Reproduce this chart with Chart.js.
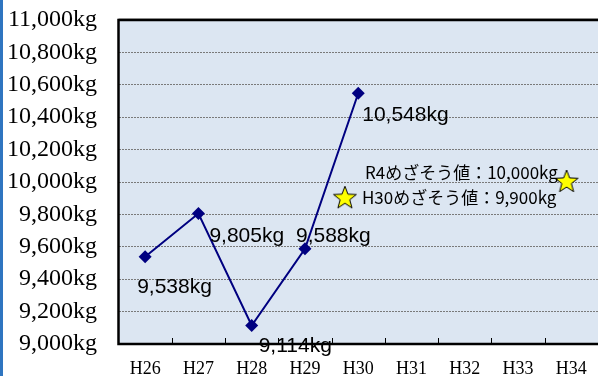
<!DOCTYPE html>
<html>
<head>
<meta charset="utf-8">
<script src="https://cdn.jsdelivr.net/npm/chart.js@4"></script>
<style>
  body { margin: 0; background: #fff; }
  #wrap { position: relative; width: 598px; height: 376px; }
  #stripe { position: absolute; left: 0; top: 0; width: 3px; height: 376px; background: #2f75c0; }
</style>
</head>
<body>
<div id="wrap">
  <canvas id="weightChart" width="598" height="376"></canvas>
  <div id="stripe"></div>
</div>
<script>
// data
const categories = ['H26', 'H27', 'H28', 'H29', 'H30', 'H31', 'H32', 'H33', 'H34'];
const amounts = [9538, 9805, 9114, 9588, 10548, null, null, null, null];
const yMin = 9000;
const yMax = 11000;
const yStep = 200;

// goal stars (x is a position on the category index axis)
const goalNames = ['R4めざそう値：10,000kg', 'H30めざそう値：9,900kg'];
const goalValues = [10000, 9900];
const goalX = [7.91, 3.75];

// label offsets (px) from each point
const labelOffsets = [[-8, 30], [11, 23], [7, 21], [-9, -13], [4, 22]];
const goalTextOffsets = [[20, -9], [17, -1]];

const fmt = v => v.toLocaleString('en-US') + 'kg';

// yellow star drawn once and used as point style
function makeStar(r) {
  const c = document.createElement('canvas');
  c.width = c.height = r * 2 + 4;
  const g = c.getContext('2d');
  const cx = r + 2, cy = r + 2;
  g.beginPath();
  for (let i = 0; i < 10; i++) {
    const rad = i % 2 === 0 ? r : r * 0.42;
    const a = -Math.PI / 2 + i * Math.PI / 5;
    g.lineTo(cx + rad * Math.cos(a), cy + rad * Math.sin(a));
  }
  g.closePath();
  g.fillStyle = '#ffff00';
  g.fill();
  g.strokeStyle = '#000';
  g.lineWidth = 1;
  g.stroke();
  return c;
}
const star = makeStar(12);

// no extra room for edge labels, the frame sizes are set by hand
const noPad = s => { s.paddingTop = 0; s.paddingBottom = 0; s.paddingLeft = 0; s.paddingRight = 0; };

const plotDeco = {
  id: 'plotDeco',
  beforeDraw(chart) {
    const { ctx, chartArea: a } = chart;
    ctx.save();
    ctx.fillStyle = '#dce6f2';
    ctx.fillRect(a.left, a.top, a.right - a.left, a.bottom - a.top);
    ctx.restore();
  },
  afterDatasetsDraw(chart) {
    const { ctx, chartArea: a } = chart;
    const xs = chart.scales.x;
    ctx.save();
    // frame: top, left, bottom
    ctx.strokeStyle = '#bbb';
    ctx.lineWidth = 1;
    ctx.beginPath();
    ctx.moveTo(a.left, a.top - 1.5);
    ctx.lineTo(a.right, a.top - 1.5);
    ctx.stroke();
    ctx.strokeStyle = '#000';
    ctx.lineWidth = 2.5;
    ctx.beginPath();
    ctx.moveTo(a.right, a.top);
    ctx.lineTo(a.left, a.top);
    ctx.lineTo(a.left, a.bottom);
    ctx.lineTo(a.right, a.bottom);
    ctx.stroke();
    // inner tick marks between categories
    ctx.lineWidth = 1;
    for (let i = 1; i < categories.length; i++) {
      const x = Math.round((xs.getPixelForValue(i - 1) + xs.getPixelForValue(i)) / 2) + 0.5;
      ctx.beginPath();
      ctx.moveTo(x, a.bottom);
      ctx.lineTo(x, a.bottom - 6);
      ctx.stroke();
    }
    // value labels
    ctx.fillStyle = '#000';
    ctx.font = '21px "Liberation Sans", Arial, sans-serif';
    ctx.textAlign = 'left';
    ctx.textBaseline = 'middle';
    chart.getDatasetMeta(0).data.forEach((p, i) => {
      if (amounts[i] == null) return;
      const o = labelOffsets[i];
      ctx.fillText(fmt(amounts[i]), p.x + o[0], p.y + o[1]);
    });
    // goal labels, both next to the H30 star
    const stars = chart.getDatasetMeta(1).data;
    const ys = chart.scales.y;
    ctx.font = '17px "Noto Sans CJK JP", sans-serif';
    goalNames.forEach((t, i) => {
      const o = goalTextOffsets[i];
      ctx.fillText(t, stars[1].x + o[0], ys.getPixelForValue(goalValues[i]) + o[1]);
    });
    ctx.restore();
  }
};

new Chart(document.getElementById('weightChart'), {
  type: 'line',
  data: {
    labels: categories,
    datasets: [{
      data: amounts,
      borderColor: '#000080',
      backgroundColor: '#000080',
      borderWidth: 2,
      pointStyle: 'rectRot',
      pointRadius: 6.5,
      pointBackgroundColor: '#000080',
      pointBorderWidth: 0,
      tension: 0
    }, {
      type: 'scatter',
      xAxisID: 'xs',
      data: goalX.map((x, i) => ({ x: x, y: goalValues[i] })),
      pointStyle: star,
      pointRadius: 12
    }]
  },
  options: {
    responsive: false,
    animation: false,
    layout: { autoPadding: false, padding: { top: 20, right: 0, left: 0, bottom: 0 } },
    plugins: {
      legend: { display: false },
      tooltip: { enabled: false }
    },
    scales: {
      x: {
        offset: true,
        grid: { display: false, drawTicks: false },
        border: { display: false },
        ticks: {
          color: '#000',
          padding: 14,
          maxRotation: 0,
          font: { family: '"Liberation Serif", "Times New Roman", serif', size: 18 }
        },
        afterFit: s => { s.height = 32; noPad(s); }
      },
      xs: {
        type: 'linear',
        display: false,
        ticks: { display: false },
        min: -0.5,
        max: categories.length - 0.5,
        afterFit: noPad
      },
      y: {
        min: yMin,
        max: yMax,
        grid: { color: '#7a7a7a', lineWidth: 1, drawTicks: false },
        border: { display: false, dash: [2, 1] },
        ticks: {
          stepSize: yStep,
          color: '#000',
          padding: 21.5,
          font: { family: '"Liberation Serif", "Times New Roman", serif', size: 24 },
          callback: v => fmt(v)
        },
        afterFit: s => { s.width = 118.5; noPad(s); }
      }
    }
  },
  plugins: [plotDeco]
});
</script>
</body>
</html>
